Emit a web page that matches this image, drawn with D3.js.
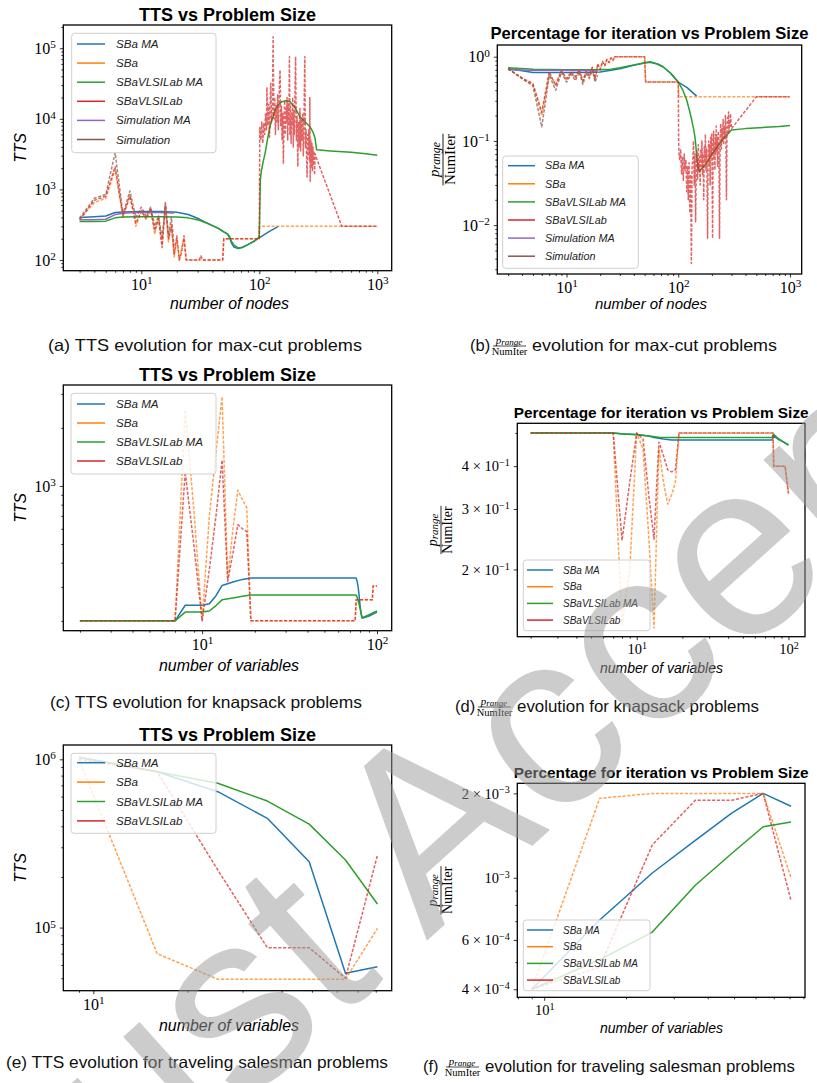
<!DOCTYPE html>
<html>
<head>
<meta charset="utf-8">
<script src="https://cdn.jsdelivr.net/npm/d3@7"></script>
<style>
  body { margin: 0; background: #fff; }
  svg { display: block; }
</style>
</head>
<body>
<script>
// ---------------- series meta ----------------
const seriesNames  = ["SBa MA", "SBa", "SBaVLSILab MA", "SBaVLSILab", "Simulation MA", "Simulation"];
const seriesColors = ["#1f77b4", "#ff7f0e", "#2ca02c", "#d62728", "#9467bd", "#8c564b"];

// ---------------- (a) max-cut: TTS ----------------
const mcTtsSBaMAx = [3,4,5,6,7,10,15,20,25,31,38,45,50,54,56,58,61,66,72,80,90,100,120,145];
const mcTtsSBaMAy = [400,410,420,470,480,485,485,475,440,380,320,280,250,232,205,175,152,145,150,165,185,205,250,300];

const mcTtsSBax = [3,4,5,6,7,8,9,10,11,12,13,14,15,16,17,18,19,20,21,22,23,24,25,49,50,99,100,1000];
const mcTtsSBay = [380,650,750,1900,400,850,300,480,400,500,230,420,160,580,180,320,110,200,100,150,200,100,100,100,200,200,300,300];

const mcTtsLabMAx = [3,4,5,6,7,10,15,20,25,31,38,45,50,54,56,58,61,66,72,80,90,100,102,104,108,112,117,123,130,136,145,155,168,182,200,221,245,269,285,297,306,400,600,800,1000];
const mcTtsLabMAy = [350,352,355,395,405,410,410,405,395,365,320,280,250,232,215,185,162,148,152,165,182,213,1350,1800,2500,3240,5000,7700,10500,13200,15800,17400,18000,17400,14500,10700,9000,7700,6500,5250,3630,3500,3350,3200,3050];

const mcTtsLabx = [3,4,5,6,7,8,9,10,11,12,13,14,15,16,17,18,19,20,21,22,23,24,25,31,32,33,49,50,99,100,
  101,103,105,107,109,111,113,115,116,118,120,122,124,125,127,129,131,133,135,137,139,141,143,145,148,150,
  152,154,156,158,160,162,164,166,168,170,172,174,176,178,180,182,184,186,188,190,192,194,196,198,200,
  203,206,209,212,215,218,221,224,227,230,233,236,239,243,246,249,252,254,257,260,263,266,268,270,273,
  276,279,282,285,288,291,294,297,300,500,1000];
const mcTtsLaby = [370,700,800,2100,420,800,330,500,380,540,260,380,150,620,200,300,120,220,100,130,220,100,100,100,115,100,100,200,200,200,
  7500,5000,9000,4500,8500,6000,12000,7000,28000,8000,16000,5500,20000,32000,9000,14000,145000,10000,20000,6000,16000,9000,22000,7000,30000,49000,
  8000,15000,5000,12000,2300,10000,18000,6000,14000,9000,20000,5000,16000,8000,76000,6000,15000,4500,12000,8000,20000,4000,13000,6000,18000,
  76000,5000,11000,2100,9000,4000,14000,3500,10000,5000,12000,3000,9000,76000,4000,7000,2500,1500,6000,3000,7000,2500,20000,1300,5000,
  2000,4500,1800,4000,2200,3500,1600,3200,3000,300,300];

const mcTtsSimMAx = [3,4,5,6,7,8,10,14,19];
const mcTtsSimMAy = [370,372,378,440,460,465,470,470,462];

const mcTtsSimx = [3,4,5,6,7,8,9,10,11,12,13,14,15,16,17,18,19];
const mcTtsSimy = [390,750,850,3300,450,950,400,560,420,560,300,420,200,650,230,400,150];

// ---------------- (b) max-cut: p_range / NumIter ----------------
const mcPctSBaMAx = [3,4,5,10,15,20,25,30,40,50,56,65,73,85,100,120,146];
const mcPctSBaMAy = [0.72,0.68,0.65,0.65,0.65,0.66,0.69,0.72,0.79,0.84,0.86,0.82,0.76,0.64,0.50,0.43,0.34];

const mcPctSBax = [3,4,5,6,7,8,9,10,11,12,13,14,15,16,17,18,19,20,21,22,23,24,25,26,27,50,51,100,101,1000];
const mcPctSBay = [0.72,0.55,0.46,0.20,0.62,0.47,0.70,0.52,0.64,0.56,0.68,0.50,0.66,0.58,0.74,0.53,0.80,0.72,0.86,0.80,0.92,0.86,0.96,0.92,1.0,1.0,0.5,0.5,0.335,0.335];

const mcPctLabMAx = [3,5,10,20,25,30,40,50,56,65,73,85,100,110,119,126,132,137,141,144,146,150,154,160,180,200,230,260,300,400,600,800,1000];
const mcPctLabMAy = [0.74,0.71,0.70,0.70,0.71,0.74,0.80,0.85,0.87,0.82,0.76,0.64,0.50,0.40,0.306,0.23,0.177,0.14,0.112,0.085,0.065,0.05,0.043,0.046,0.055,0.07,0.09,0.11,0.135,0.14,0.145,0.148,0.152];

const mcPctLabx = [3,4,5,6,7,8,9,10,11,12,13,14,15,16,17,18,19,20,21,22,23,24,25,26,27,50,51,100,
  101,103,105,107,109,111,113,115,117,119,121,123,125,127,129,131,133,135,137,139,141,143,145,147,149,151,
  153,155,157,159,161,163,165,167,169,171,173,175,177,179,181,183,185,187,189,191,193,195,197,199,201,203,
  205,207,209,211,213,215,217,219,221,223,225,228,231,234,237,240,243,246,249,252,255,258,261,264,267,270,
  273,276,279,282,285,288,291,294,297,300,500,1000];
const mcPctLaby = [0.72,0.56,0.48,0.22,0.66,0.45,0.68,0.55,0.66,0.58,0.70,0.52,0.68,0.60,0.75,0.55,0.82,0.70,0.88,0.78,0.93,0.85,0.97,0.90,1.0,1.0,0.5,0.5,
  0.075,0.06,0.08,0.04,0.065,0.034,0.07,0.045,0.06,0.025,0.05,0.02,0.055,0.014,0.04,0.0035,0.05,0.06,0.10,0.03,0.07,0.011,0.05,0.075,0.035,0.09,
  0.045,0.065,0.03,0.08,0.05,0.10,0.04,0.07,0.02,0.085,0.055,0.12,0.045,0.08,0.035,0.007,0.06,0.10,0.05,0.09,0.03,0.11,0.065,0.12,0.04,0.007,
  0.08,0.13,0.06,0.10,0.045,0.12,0.07,0.15,0.08,0.11,0.05,0.13,0.09,0.007,0.10,0.16,0.08,0.14,0.10,0.18,0.09,0.15,0.11,0.20,0.10,0.02,
  0.14,0.19,0.12,0.22,0.13,0.18,0.15,0.21,0.16,0.14,0.335,0.335];

const mcPctSimMAx = [3,5,10,19];
const mcPctSimMAy = [0.70,0.69,0.69,0.68];

const mcPctSimx = [3,4,5,6,7,8,9,10,11,12,13,14,15,16,17,18,19];
const mcPctSimy = [0.72,0.55,0.45,0.147,0.60,0.40,0.65,0.50,0.62,0.52,0.66,0.47,0.64,0.55,0.70,0.50,0.60];

// ---------------- (c) knapsack: TTS ----------------
const ksTtsSBaMAx = [2,7,8,10,11,12,13,15,17,19,76,77,78,79,80,81,82,83,90,100];
const ksTtsSBaMAy = [200,200,241,241,245,270,305,318,328,333,333,320,300,270,240,220,210,207,212,222];

const ksTtsSBax = [2,7,8,9,10,11,12,13,14,15,16,17,18,19,75,76,94,95,100];
const ksTtsSBay = [200,200,2480,720,200,700,1500,2900,330,600,950,850,770,200,200,257,257,303,303];

const ksTtsLabMAx = [2,7,8,10,11,12,13,15,17,19,76,77,78,80,82,85,90,100];
const ksTtsLabMAy = [200,200,222,222,225,240,257,263,268,272,272,265,255,232,207,210,215,225];

const ksTtsLabx = [2,7,8,9,10,11,12,13,14,15,16,17,18,19,75,76,94,95,100];
const ksTtsLaby = [200,200,1180,480,200,370,700,1360,320,450,630,600,580,200,200,257,257,303,303];

// ---------------- (d) knapsack: p_range / NumIter ----------------
const ksPctSBaMAx = [2,7,8,10,12,13,15,17,20,78,80,85,100];
const ksPctSBaMAy = [0.5,0.5,0.497,0.495,0.49,0.485,0.48,0.477,0.477,0.477,0.49,0.48,0.462];

const ksPctSBax = [2,7,8,9,10,11,12,13,14,15,16,17,18,19,79,80,95,100];
const ksPctSBay = [0.5,0.5,0.138,0.2,0.5,0.45,0.25,0.135,0.45,0.36,0.31,0.33,0.36,0.5,0.5,0.4,0.4,0.333];

const ksPctLabMAx = [2,7,8,10,12,14,17,20,78,80,85,100];
const ksPctLabMAy = [0.5,0.5,0.496,0.494,0.49,0.486,0.485,0.485,0.485,0.495,0.483,0.46];

const ksPctLabx = [2,7,8,9,10,11,12,13,14,15,16,17,18,19,79,80,95,100];
const ksPctLaby = [0.5,0.5,0.243,0.36,0.5,0.48,0.33,0.245,0.47,0.43,0.39,0.385,0.39,0.5,0.5,0.4,0.4,0.333];

// ---------------- (e)/(f) traveling salesman ----------------
const tspSizes = [9,16,25,36,49,64,81];
const tspTtsSBaMA = [1.03e6,8.44e5,6.42e5,4.46e5,2.46e5,5.35e4,5.86e4];
const tspTtsSBa   = [1.0e6,7.0e4,4.93e4,4.93e4,4.93e4,4.93e4,9.9e4];
const tspTtsLabMA = [1.03e6,8.44e5,7.2e5,5.65e5,4.12e5,2.52e5,1.38e5];
const tspTtsLab   = [1.0e6,8.44e5,2.2e5,7.6e4,7.6e4,5.0e4,2.7e5];

const tspPctSBaMA = [4.0e-4,7.07e-4,1.04e-3,1.36e-3,1.70e-3,2.0e-3,1.8e-3];
const tspPctSBa   = [4.0e-4,1.92e-3,2.0e-3,2.0e-3,2.0e-3,2.0e-3,1.0e-3];
const tspPctLabMA = [4.0e-4,5.1e-4,6.4e-4,9.4e-4,1.22e-3,1.52e-3,1.58e-3];
const tspPctLab   = [4.0e-4,4.8e-4,1.31e-3,1.89e-3,1.89e-3,2.0e-3,8.3e-4];

// ---------------- tick labels ----------------
const mcXTicks     = [10, 100, 1000];
const mcTtsYTicks  = [1e2, 1e3, 1e4, 1e5];
const mcPctYTicks  = [1e-2, 1e-1, 1e0];
const ksXTicks     = [10, 100];
const ksTtsYTicks  = [1e3];
const ksPctYTicks  = [0.2, 0.3, 0.4];
const tspXTicks    = [10];
const tspTtsYTicks = [1e5, 1e6];
const tspPctYTicks = [4e-4, 6e-4, 1e-3, 2e-3];

// ---------------- drawing ----------------
const SANS = "'Liberation Sans', Arial, sans-serif";
const SERIF = "'Liberation Serif', 'DejaVu Serif', serif";

const svg = d3.select("body").append("svg").attr("width", 817).attr("height", 1083);
svg.append("rect").attr("width", 817).attr("height", 1083).attr("fill", "#fff");
const defs = svg.append("defs");

const zip = (xs, ys) => xs.map((v, i) => [v, ys[i]]);

function minorTicks(domain, majors) {
  const lo = Math.min(...domain), hi = Math.max(...domain), out = [];
  for (let k = Math.floor(Math.log10(lo)) - 1; k <= Math.ceil(Math.log10(hi)); k++) {
    for (let m = 1; m <= 9; m++) {
      const v = +(m * Math.pow(10, k)).toPrecision(6);
      if (v >= lo && v <= hi && !majors.some(t => Math.abs(t - v) / v < 1e-6)) out.push(v);
    }
  }
  return out;
}

function powLabel(sel, v) {
  const e = Math.floor(Math.log10(v) + 1e-9);
  const m = Math.round(v / Math.pow(10, e));
  sel.text(null);
  if (m !== 1) sel.append("tspan").text(m + " \u00d7 ");
  sel.append("tspan").text("10");
  sel.append("tspan").attr("dy", "-0.5em").style("font-size", "70%")
    .text(e < 0 ? "\u2212" + (-e) : String(e));
}

function fracLabel(g, cx, cy, size, rotate) {
  const f = g.append("g").attr("transform", `translate(${cx},${cy})` + (rotate ? " rotate(-90)" : ""));
  const num = f.append("text").attr("text-anchor", "middle").attr("y", -size * 0.3)
    .attr("font-family", SERIF).attr("font-size", size);
  num.append("tspan").attr("font-style", "italic").text("p");
  num.append("tspan").attr("font-style", "italic").attr("font-size", size * 0.78).attr("dy", size * 0.1).text("range");
  f.append("text").attr("text-anchor", "middle").attr("y", size * 0.8)
    .attr("font-family", SERIF).attr("font-size", size).text("NumIter");
  const w = size * 3.45;
  f.append("line").attr("x1", -w / 2).attr("x2", w / 2).attr("y1", 0).attr("y2", 0)
    .attr("stroke", "#000").attr("stroke-width", Math.max(0.8, size * 0.06));
  return f;
}

function drawPanel(p) {
  const g = svg.append("g");
  const x = d3.scaleLog().domain(p.xDomain).range([p.x0, p.x1]);
  const y = d3.scaleLog().domain(p.yDomain).range([p.y1, p.y0]);

  defs.append("clipPath").attr("id", "clip-" + p.id)
    .append("rect").attr("x", p.x0).attr("y", p.y0)
    .attr("width", p.x1 - p.x0).attr("height", p.y1 - p.y0);

  // data lines
  const line = d3.line().x(d => x(d[0])).y(d => y(d[1]));
  const lg = g.append("g").attr("clip-path", `url(#clip-${p.id})`);
  p.series.forEach(s => {
    lg.append("path").datum(zip(s.x, s.y)).attr("d", line)
      .attr("fill", "none").attr("stroke", seriesColors[s.k])
      .attr("stroke-width", 1.5).attr("stroke-linejoin", "round")
      .attr("stroke-dasharray", s.dashed ? "3.2,1.6" : null)
      .attr("stroke-opacity", s.dashed ? 0.72 : 1);
  });

  // axes
  const tickFont = p.tickSize;
  const axX = g.append("g").attr("transform", `translate(0,${p.y1})`).style("color", "#000");
  axX.append("g").call(d3.axisBottom(x).tickValues(minorTicks(x.domain(), p.xTicks)).tickSize(2).tickFormat(""));
  const gx = axX.append("g").call(d3.axisBottom(x).tickValues(p.xTicks).tickSize(3.5).tickPadding(4));
  gx.selectAll(".tick text").attr("font-family", SERIF).attr("font-size", tickFont)
    .each(function (d) { powLabel(d3.select(this), d); });

  const axY = g.append("g").attr("transform", `translate(${p.x0},0)`).style("color", "#000");
  axY.append("g").call(d3.axisLeft(y).tickValues(minorTicks(y.domain(), p.yTicks)).tickSize(2).tickFormat(""));
  const gy = axY.append("g").call(d3.axisLeft(y).tickValues(p.yTicks).tickSize(3.5).tickPadding(4));
  gy.selectAll(".tick text").attr("font-family", SERIF).attr("font-size", tickFont)
    .each(function (d) { powLabel(d3.select(this), d); });

  g.selectAll(".domain").remove();
  g.selectAll(".tick line").attr("stroke-width", 0.8);

  // frame
  g.append("rect").attr("x", p.x0).attr("y", p.y0)
    .attr("width", p.x1 - p.x0).attr("height", p.y1 - p.y0)
    .attr("fill", "none").attr("stroke", "#000").attr("stroke-width", 1.3);

  // title
  g.append("text").attr("x", (p.x0 + p.x1) / 2).attr("y", p.titleY)
    .attr("text-anchor", "middle").attr("font-family", SANS).attr("font-weight", "bold")
    .attr("font-size", p.titleSize).attr("textLength", p.titleW).attr("lengthAdjust", "spacingAndGlyphs")
    .text(p.title);

  // axis labels
  g.append("text").attr("x", p.xlabelX).attr("y", p.xlabelY).attr("text-anchor", "middle")
    .attr("font-family", SANS).attr("font-style", "italic").attr("font-size", p.labelSize)
    .attr("textLength", p.xlabelW).attr("lengthAdjust", "spacingAndGlyphs")
    .text(p.xlabel);
  if (p.ylabel === "frac") {
    fracLabel(g, p.ylabelX, (p.y0 + p.y1) / 2, p.fracSize, true);
  } else {
    g.append("text").attr("transform", `translate(${p.ylabelX},${(p.y0 + p.y1) / 2}) rotate(-90)`)
      .attr("text-anchor", "middle").attr("font-family", SANS).attr("font-style", "italic")
      .attr("font-size", p.labelSize).text(p.ylabel);
  }

  // legend
  const L = p.legend;
  const leg = g.append("g");
  leg.append("rect").attr("x", L.x).attr("y", L.y).attr("width", L.w).attr("height", L.h)
    .attr("rx", 3).attr("fill", "#fff").attr("fill-opacity", 0.8)
    .attr("stroke", "#d0d0d0").attr("stroke-width", 1);
  p.series.forEach((s, i) => {
    const yy = L.row0 + i * L.step;
    leg.append("line").attr("x1", L.hx0).attr("x2", L.hx1).attr("y1", yy).attr("y2", yy)
      .attr("stroke", seriesColors[s.k]).attr("stroke-width", 1.5);
    leg.append("text").attr("x", L.tx).attr("y", yy).attr("dy", "0.35em")
      .attr("font-family", SANS).attr("font-style", "italic").attr("font-size", L.font)
      .attr("fill", "#222").text(seriesNames[s.k]);
  });
}

const lg10 = v => Math.pow(10, v);

// (a)
drawPanel({
  id: "a", x0: 63.3, x1: 391.7, y0: 25, y1: 270.7,
  xDomain: [lg10(0.339), lg10(3.122)], yDomain: [lg10(1.848), lg10(5.329)],
  xTicks: mcXTicks, yTicks: mcTtsYTicks, tickSize: 16,
  title: "TTS vs Problem Size", titleY: 20.5, titleSize: 17.5, titleW: 177,
  xlabel: "number of nodes", xlabelX: 229.5, xlabelY: 309, xlabelW: 119, labelSize: 15.7,
  ylabel: "TTS", ylabelX: 26,
  legend: { x: 71.7, y: 33.3, w: 144.3, h: 119.4, row0: 44, step: 19.1, hx0: 77, hx1: 105, tx: 116, font: 11.6 },
  series: [
    { k: 0, x: mcTtsSBaMAx, y: mcTtsSBaMAy },
    { k: 1, x: mcTtsSBax, y: mcTtsSBay, dashed: true },
    { k: 2, x: mcTtsLabMAx, y: mcTtsLabMAy },
    { k: 3, x: mcTtsLabx, y: mcTtsLaby, dashed: true },
    { k: 4, x: mcTtsSimMAx, y: mcTtsSimMAy },
    { k: 5, x: mcTtsSimx, y: mcTtsSimy, dashed: true }
  ]
});

// (b)
drawPanel({
  id: "b", x0: 497.3, x1: 801.7, y0: 45, y1: 274,
  xDomain: [lg10(0.380), lg10(3.105)], yDomain: [lg10(-2.58), lg10(0.139)],
  xTicks: mcXTicks, yTicks: mcPctYTicks, tickSize: 16,
  title: "Percentage for iteration vs Problem Size", titleY: 39, titleSize: 16.6, titleW: 318,
  xlabel: "number of nodes", xlabelX: 651, xlabelY: 309, xlabelW: 112, labelSize: 14.8,
  ylabel: "frac", ylabelX: 443, fracSize: 15,
  legend: { x: 502.7, y: 156, w: 135.6, h: 112.3, row0: 165.7, step: 18.1, hx0: 508, hx1: 535, tx: 545, font: 10.8 },
  series: [
    { k: 0, x: mcPctSBaMAx, y: mcPctSBaMAy },
    { k: 1, x: mcPctSBax, y: mcPctSBay, dashed: true },
    { k: 2, x: mcPctLabMAx, y: mcPctLabMAy },
    { k: 3, x: mcPctLabx, y: mcPctLaby, dashed: true },
    { k: 4, x: mcPctSimMAx, y: mcPctSimMAy },
    { k: 5, x: mcPctSimx, y: mcPctSimy, dashed: true }
  ]
});

// (c)
drawPanel({
  id: "c", x0: 63.3, x1: 391.7, y0: 385, y1: 630.7,
  xDomain: [lg10(0.206), lg10(2.084)], yDomain: [lg10(2.25), lg10(3.523)],
  xTicks: ksXTicks, yTicks: ksTtsYTicks, tickSize: 16,
  title: "TTS vs Problem Size", titleY: 380.7, titleSize: 17.5, titleW: 177,
  xlabel: "number of variables", xlabelX: 229, xlabelY: 671, xlabelW: 140, labelSize: 15.7,
  ylabel: "TTS", ylabelX: 26,
  legend: { x: 71, y: 393.3, w: 145, h: 80.7, row0: 404, step: 19, hx0: 77, hx1: 105, tx: 116, font: 11.6 },
  series: [
    { k: 0, x: ksTtsSBaMAx, y: ksTtsSBaMAy },
    { k: 1, x: ksTtsSBax, y: ksTtsSBay, dashed: true },
    { k: 2, x: ksTtsLabMAx, y: ksTtsLabMAy },
    { k: 3, x: ksTtsLabx, y: ksTtsLaby, dashed: true }
  ]
});

// (d)
drawPanel({
  id: "d", x0: 517.3, x1: 805, y0: 423.3, y1: 636.7,
  xDomain: [lg10(0.213), lg10(2.109)], yDomain: [lg10(-0.895), lg10(-0.273)],
  xTicks: ksXTicks, yTicks: ksPctYTicks, tickSize: 14.5,
  title: "Percentage for iteration vs Problem Size", titleY: 418, titleSize: 15.4, titleW: 295,
  xlabel: "number of variables", xlabelX: 661.5, xlabelY: 673, xlabelW: 123, labelSize: 13.8,
  ylabel: "frac", ylabelX: 441, fracSize: 14,
  legend: { x: 523.3, y: 560, w: 126.7, h: 70.7, row0: 570, step: 16.7, hx0: 527, hx1: 553, tx: 563, font: 10 },
  series: [
    { k: 0, x: ksPctSBaMAx, y: ksPctSBaMAy },
    { k: 1, x: ksPctSBax, y: ksPctSBay, dashed: true },
    { k: 2, x: ksPctLabMAx, y: ksPctLabMAy },
    { k: 3, x: ksPctLabx, y: ksPctLaby, dashed: true }
  ]
});

// (e)
drawPanel({
  id: "e", x0: 63.3, x1: 391.7, y0: 745, y1: 990.7,
  xDomain: [lg10(0.904), lg10(1.954)], yDomain: [lg10(4.625), lg10(6.085)],
  xTicks: tspXTicks, yTicks: tspTtsYTicks, tickSize: 16,
  title: "TTS vs Problem Size", titleY: 740.7, titleSize: 17.5, titleW: 177,
  xlabel: "number of variables", xlabelX: 229, xlabelY: 1031, xlabelW: 140, labelSize: 15.7,
  ylabel: "TTS", ylabelX: 26,
  legend: { x: 71, y: 753.3, w: 145, h: 80, row0: 762.7, step: 19.4, hx0: 77, hx1: 105, tx: 116, font: 11.6 },
  series: [
    { k: 0, x: tspSizes, y: tspTtsSBaMA },
    { k: 1, x: tspSizes, y: tspTtsSBa, dashed: true },
    { k: 2, x: tspSizes, y: tspTtsLabMA },
    { k: 3, x: tspSizes, y: tspTtsLab, dashed: true }
  ]
});

// (f)
drawPanel({
  id: "f", x0: 517.3, x1: 805, y0: 783.3, y1: 997.3,
  xDomain: [lg10(0.901), lg10(1.96)], yDomain: [lg10(-3.4265), lg10(-2.663)],
  xTicks: tspXTicks, yTicks: tspPctYTicks, tickSize: 14.5,
  title: "Percentage for iteration vs Problem Size", titleY: 778, titleSize: 15.4, titleW: 295,
  xlabel: "number of variables", xlabelX: 661.5, xlabelY: 1033, xlabelW: 123, labelSize: 13.8,
  ylabel: "frac", ylabelX: 441, fracSize: 14,
  legend: { x: 523.3, y: 920, w: 126.7, h: 70.7, row0: 930, step: 16.7, hx0: 527, hx1: 553, tx: 563, font: 10 },
  series: [
    { k: 0, x: tspSizes, y: tspPctSBaMA },
    { k: 1, x: tspSizes, y: tspPctSBa, dashed: true },
    { k: 2, x: tspSizes, y: tspPctLabMA },
    { k: 3, x: tspSizes, y: tspPctLab, dashed: true }
  ]
});

// ---------------- sub-figure captions ----------------
function caption(x, y, w, text) {
  svg.append("text").attr("x", x).attr("y", y).attr("font-family", SANS).attr("font-size", 16.5)
    .attr("textLength", w).attr("lengthAdjust", "spacingAndGlyphs").attr("fill", "#111").text(text);
}
function fracCaption(x, y, tag, rest, restW) {
  svg.append("text").attr("x", x).attr("y", y).attr("font-family", SANS).attr("font-size", 16.5)
    .attr("fill", "#111").text(tag);
  const f = svg.append("g").attr("transform", `translate(${x + 30},${y - 5})`);
  const num = f.append("text").attr("x", 9).attr("y", -2).attr("text-anchor", "middle")
    .attr("font-family", SERIF).attr("font-size", 11);
  num.append("tspan").attr("font-style", "italic").text("p");
  num.append("tspan").attr("font-style", "italic").attr("font-size", 9).attr("dy", 1).text("range");
  f.append("line").attr("x1", -7).attr("x2", 26).attr("stroke", "#000").attr("stroke-width", 0.7);
  f.append("text").attr("x", 9.5).attr("y", 9).attr("text-anchor", "middle")
    .attr("font-family", SERIF).attr("font-size", 10.5).text("NumIter");
  svg.append("text").attr("x", x + 62).attr("y", y).attr("font-family", SANS).attr("font-size", 16.5)
    .attr("textLength", restW).attr("lengthAdjust", "spacingAndGlyphs").attr("fill", "#111").text(rest);
}
caption(48, 351, 314, "(a) TTS evolution for max-cut problems");
fracCaption(470, 351, "(b)", "evolution for max-cut problems", 245);
caption(50, 708, 312, "(c) TTS evolution for knapsack problems");
fracCaption(455, 712, "(d)", "evolution for knapsack problems", 242);
caption(6, 1068, 382, "(e) TTS evolution for traveling salesman problems");
fracCaption(423, 1072, "(f)", "evolution for traveling salesman problems", 310);

// ---------------- overlay stamp ----------------
svg.append("text")
  .attr("transform", "translate(565,700) rotate(-42)")
  .attr("text-anchor", "middle").attr("dominant-baseline", "central")
  .attr("font-family", SANS).attr("font-size", 250)
  .attr("fill", "#9a9a9a").attr("fill-opacity", 0.5)
  .text("Just Accepted");
</script>
</body>
</html>
